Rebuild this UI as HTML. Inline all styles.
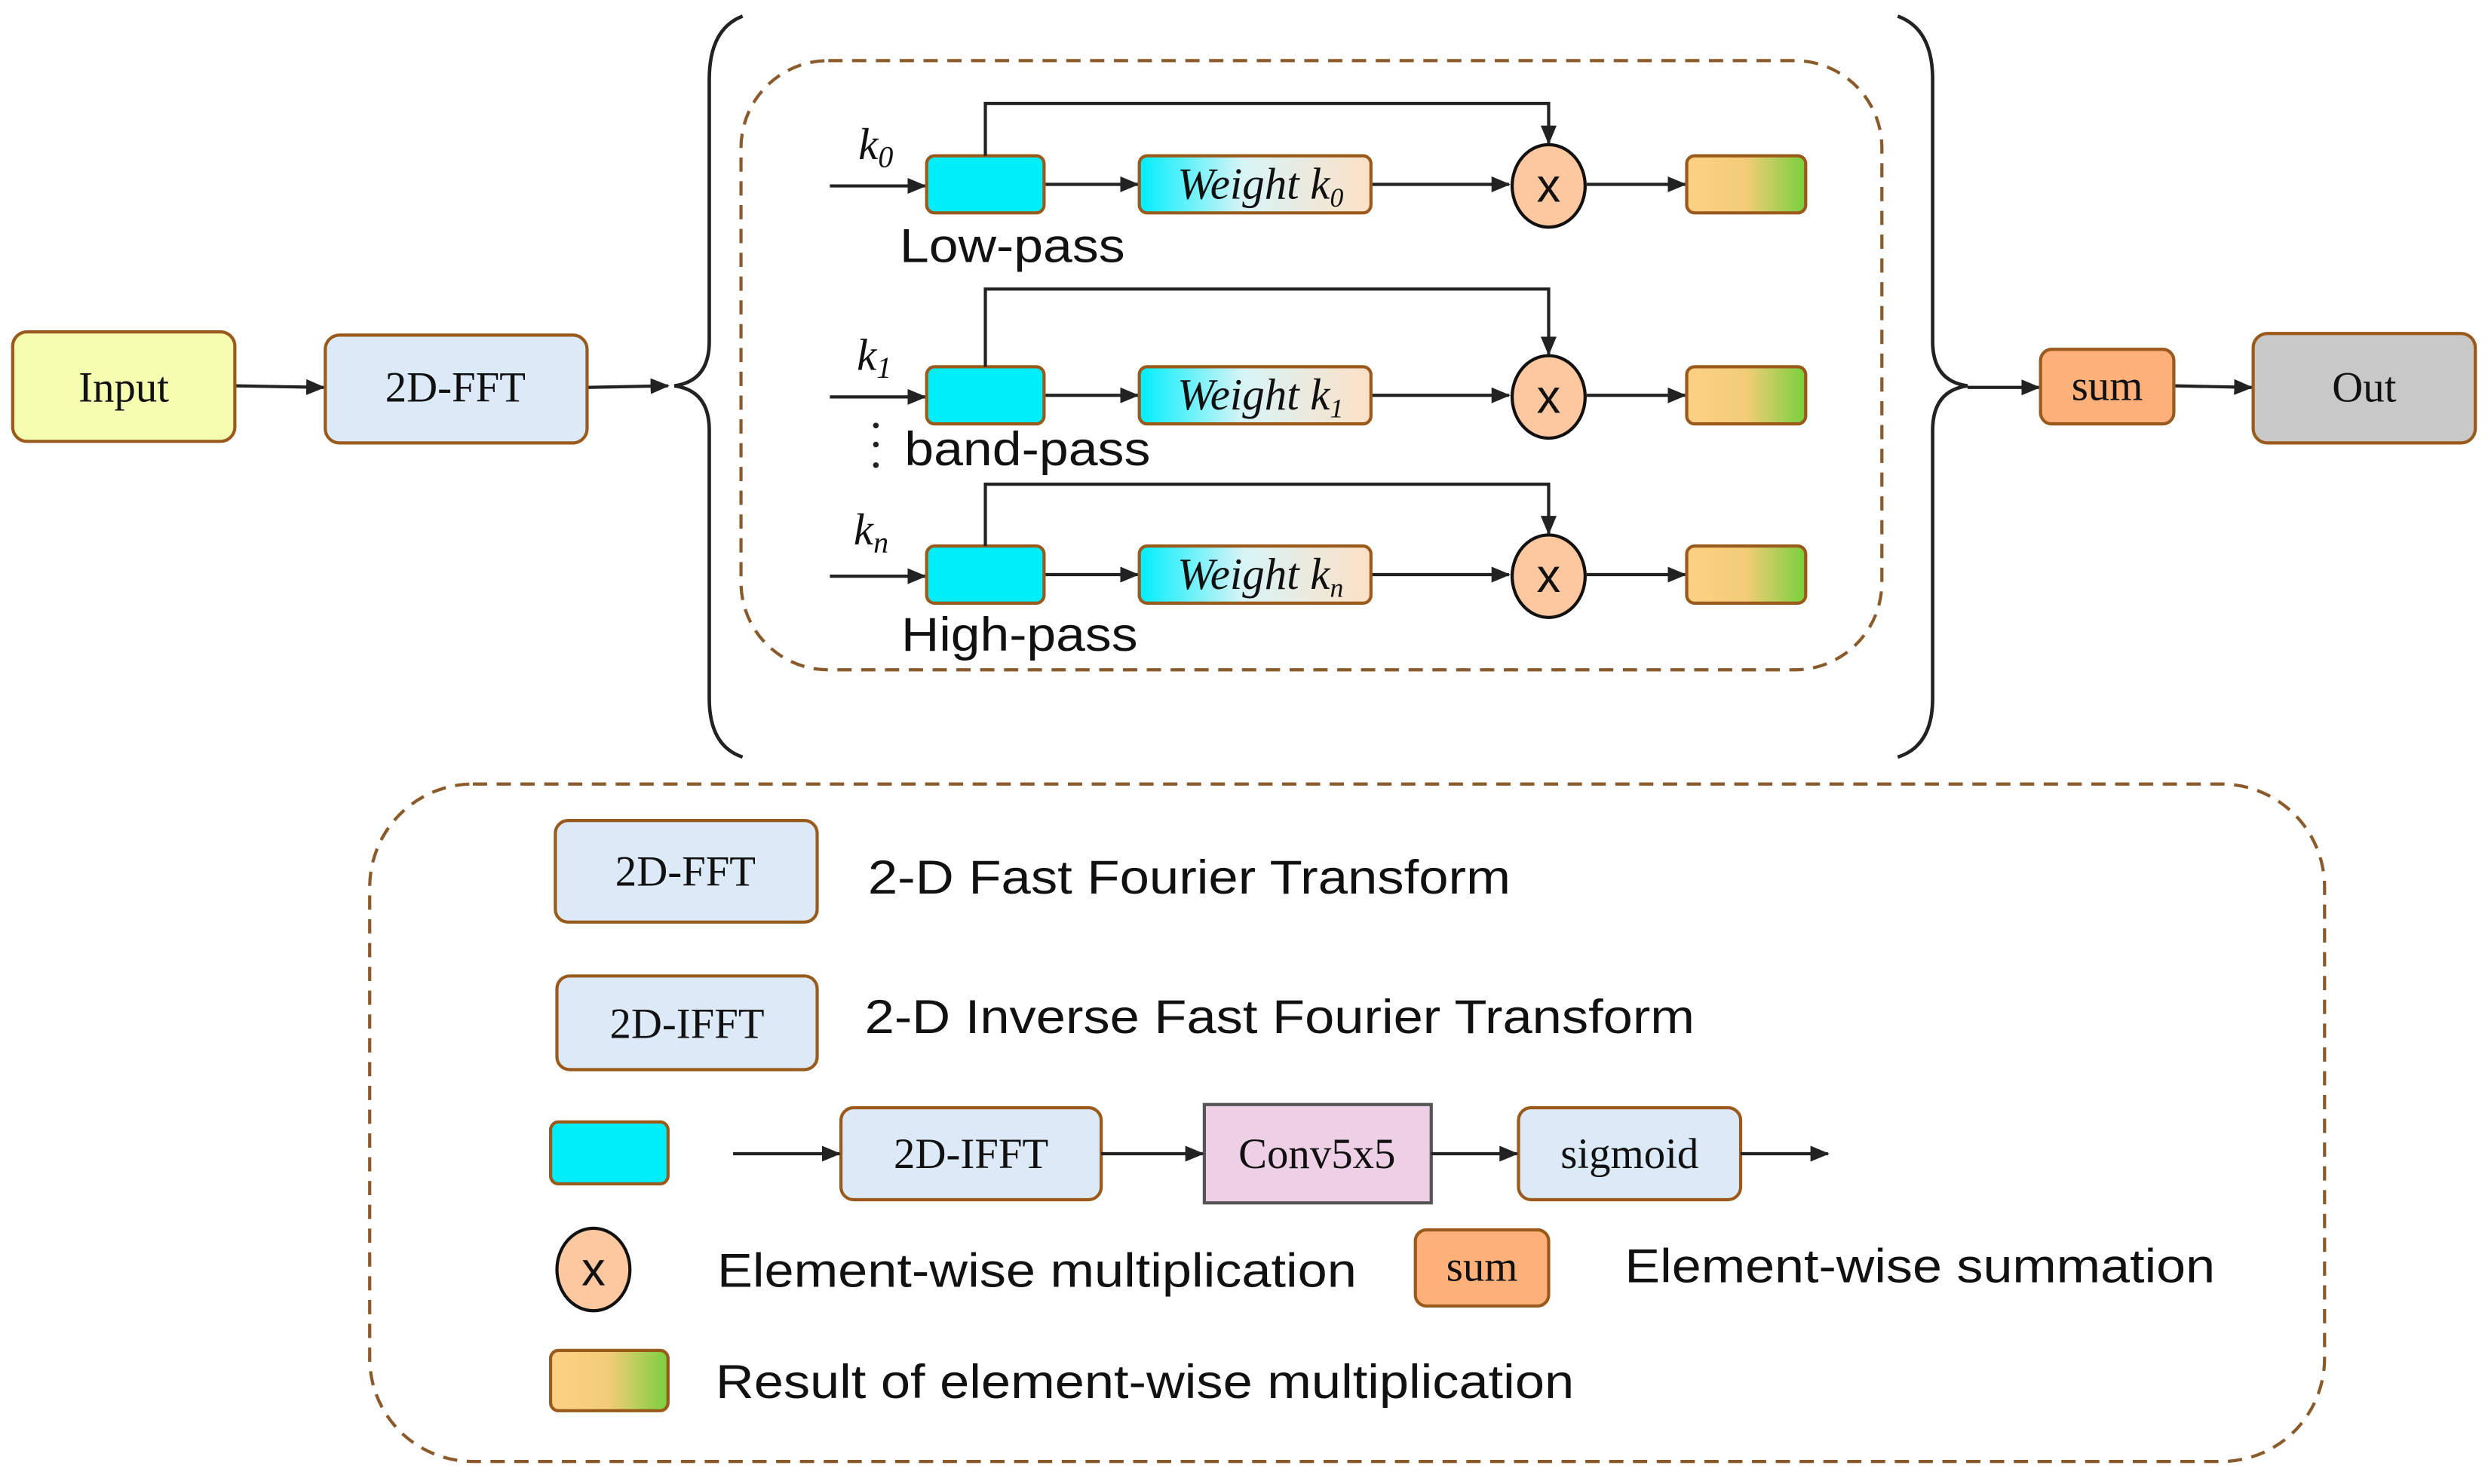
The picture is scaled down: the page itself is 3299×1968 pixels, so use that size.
<!DOCTYPE html>
<html><head><meta charset="utf-8"><style>
html,body{margin:0;padding:0;background:#fff;width:3299px;height:1968px;overflow:hidden}
svg{display:block}
.s{font-family:"Liberation Serif",serif;font-size:27px;fill:#111}
.a{font-family:"Liberation Sans",sans-serif;font-size:30px;fill:#111}
.k{font-family:"Liberation Serif",serif;font-style:italic;font-size:28px;fill:#111}
</style></head><body>
<svg width="3299" height="1968" viewBox="0 0 1568 935" xmlns="http://www.w3.org/2000/svg">
<defs>
<marker id="ar" markerWidth="12" markerHeight="10" refX="11" refY="5" orient="auto" markerUnits="userSpaceOnUse">
<path d="M0,0 L12,5 L0,10 z" fill="#222"/></marker>
<linearGradient id="gw" x1="0" x2="1"><stop offset="0" stop-color="#00eefc"/><stop offset="0.45" stop-color="#d8f4f6"/><stop offset="1" stop-color="#fde0c6"/></linearGradient>
<linearGradient id="gr" x1="0" x2="1"><stop offset="0" stop-color="#fdd184"/><stop offset="0.5" stop-color="#f2cc78"/><stop offset="1" stop-color="#78d03c"/></linearGradient>
</defs>
<g stroke="#222" stroke-width="2" fill="none">
<line x1="148" y1="243" x2="204" y2="244" marker-end="url(#ar)"/>
<line x1="370" y1="244" x2="421" y2="243" marker-end="url(#ar)"/>
<line x1="1240" y1="244" x2="1285" y2="244" marker-end="url(#ar)"/>
<line x1="1370" y1="243" x2="1419" y2="244" marker-end="url(#ar)"/>
<path d="M468,10 Q447,18 447,50 L447,215 Q447,240 425,243 Q447,246 447,271 L447,440 Q447,470 468,477" stroke-width="2.2"/>
<path d="M1196,10 Q1218,18 1218,50 L1218,215 Q1218,240 1240,243 Q1218,246 1218,271 L1218,440 Q1218,470 1196,477" stroke-width="2.2"/>
</g>
<rect x="467" y="38" width="719" height="384" rx="55" fill="none" stroke="#8b5a2b" stroke-width="2" stroke-dasharray="9,6"/>
<rect x="233" y="494" width="1232" height="427" rx="65" fill="none" stroke="#8b5a2b" stroke-width="2" stroke-dasharray="9,6"/>
<g stroke="#9a5a1c" stroke-width="2">
<rect x="8" y="209" width="140" height="69" rx="9" fill="#f5fdb0"/>
<rect x="205" y="211" width="165" height="68" rx="9" fill="#dbeaf6"/>
<rect x="1286" y="220" width="84" height="47" rx="7" fill="#fdb07a"/>
<rect x="1420" y="210" width="140" height="69" rx="9" fill="#c8c8c8"/>
</g>
<text class="s" x="78" y="253" text-anchor="middle">Input</text>
<text class="s" x="287" y="253" text-anchor="middle">2D-FFT</text>
<text class="s" x="1328" y="252" text-anchor="middle" font-size="24">sum</text>
<text class="s" x="1490" y="253" text-anchor="middle">Out</text>

<g id="row0">
<g stroke="#222" stroke-width="2" fill="none">
<line x1="523" y1="117" x2="583" y2="117" marker-end="url(#ar)"/>
<line x1="658" y1="116" x2="717" y2="116" marker-end="url(#ar)"/>
<line x1="864" y1="116" x2="951" y2="116" marker-end="url(#ar)"/>
<line x1="1000" y1="116" x2="1062" y2="116" marker-end="url(#ar)"/>
</g>
<rect x="584" y="98" width="74" height="36" rx="5" fill="#00eefa" stroke="#9a5a1c" stroke-width="2"/>
<rect x="718" y="98" width="146" height="36" rx="5" fill="url(#gw)" stroke="#9a5a1c" stroke-width="2"/>
<ellipse cx="976" cy="117" rx="23" ry="26" fill="#fdc8a0" stroke="#111" stroke-width="2"/>
<text x="976" y="127" text-anchor="middle" class="a" font-size="27">x</text>
<rect x="1063" y="98" width="75" height="36" rx="5" fill="url(#gr)" stroke="#9a5a1c" stroke-width="2"/>
</g>
<use href="#row0" y="133"/>
<use href="#row0" y="246"/>
<g stroke="#222" stroke-width="2" fill="none">
<polyline points="621,98 621,65 976,65 976,90" marker-end="url(#ar)"/>
<polyline points="621,231 621,182 976,182 976,223" marker-end="url(#ar)"/>
<polyline points="621,344 621,305 976,305 976,336" marker-end="url(#ar)"/>
</g>
<text class="k" x="742" y="125" font-size="24">Weight k<tspan font-size="17" dy="5">0</tspan></text>
<text class="k" x="541" y="100">k<tspan font-size="19" dy="5">0</tspan></text>
<text class="a" x="567" y="165" textLength="142" lengthAdjust="spacingAndGlyphs">Low-pass</text>

<text class="k" x="742" y="258" font-size="24">Weight k<tspan font-size="17" dy="5">1</tspan></text>
<text class="k" x="540" y="233">k<tspan font-size="19" dy="5">1</tspan></text>
<text class="a" x="570" y="293" textLength="155" lengthAdjust="spacingAndGlyphs">band-pass</text>
<g fill="#222"><circle cx="552" cy="268" r="1.8"/><circle cx="552" cy="280" r="1.8"/><circle cx="552" cy="293" r="1.8"/></g>

<text class="k" x="742" y="371" font-size="24">Weight k<tspan font-size="17" dy="5">n</tspan></text>
<text class="k" x="538" y="343">k<tspan font-size="19" dy="5">n</tspan></text>
<text class="a" x="568" y="410" textLength="149" lengthAdjust="spacingAndGlyphs">High-pass</text>

<g stroke="#9a5a1c" stroke-width="2">
<rect x="350" y="517" width="165" height="64" rx="8" fill="#dbeaf6"/>
<rect x="351" y="615" width="164" height="59" rx="8" fill="#dbeaf6"/>
<rect x="347" y="707" width="74" height="39" rx="5" fill="#00eefa"/>
<rect x="530" y="698" width="164" height="58" rx="8" fill="#dbeaf6"/>
<rect x="957" y="698" width="140" height="58" rx="8" fill="#dbeaf6"/>
<rect x="892" y="775" width="84" height="48" rx="7" fill="#fdb07a"/>
<rect x="347" y="851" width="74" height="38" rx="5" fill="url(#gr)"/>
</g>
<rect x="759" y="696" width="143" height="62" fill="#eed0e6" stroke="#555" stroke-width="2"/>
<ellipse cx="374" cy="800" rx="23" ry="26" fill="#fdc8a0" stroke="#111" stroke-width="2"/>
<text x="374" y="810" text-anchor="middle" class="a" font-size="27">x</text>
<g stroke="#222" stroke-width="2" fill="none">
<line x1="462" y1="727" x2="529" y2="727" marker-end="url(#ar)"/>
<line x1="694" y1="727" x2="758" y2="727" marker-end="url(#ar)"/>
<line x1="902" y1="727" x2="956" y2="727" marker-end="url(#ar)"/>
<line x1="1097" y1="727" x2="1152" y2="727" marker-end="url(#ar)"/>
</g>
<text class="s" x="432" y="558" text-anchor="middle">2D-FFT</text>
<text class="s" x="433" y="654" text-anchor="middle">2D-IFFT</text>
<text class="s" x="612" y="736" text-anchor="middle">2D-IFFT</text>
<text class="s" x="830" y="736" text-anchor="middle">Conv5x5</text>
<text class="s" x="1027" y="736" text-anchor="middle">sigmoid</text>
<text class="s" x="934" y="807" text-anchor="middle" font-size="24">sum</text>
<text class="a" x="547" y="563" textLength="405" lengthAdjust="spacingAndGlyphs">2-D Fast Fourier Transform</text>
<text class="a" x="545" y="651" textLength="523" lengthAdjust="spacingAndGlyphs">2-D Inverse Fast Fourier Transform</text>
<text class="a" x="452" y="811" textLength="403" lengthAdjust="spacingAndGlyphs">Element-wise multiplication</text>
<text class="a" x="1024" y="808" textLength="372" lengthAdjust="spacingAndGlyphs">Element-wise summation</text>
<text class="a" x="451" y="881" textLength="541" lengthAdjust="spacingAndGlyphs">Result of element-wise multiplication</text>
</svg>
</body></html>
